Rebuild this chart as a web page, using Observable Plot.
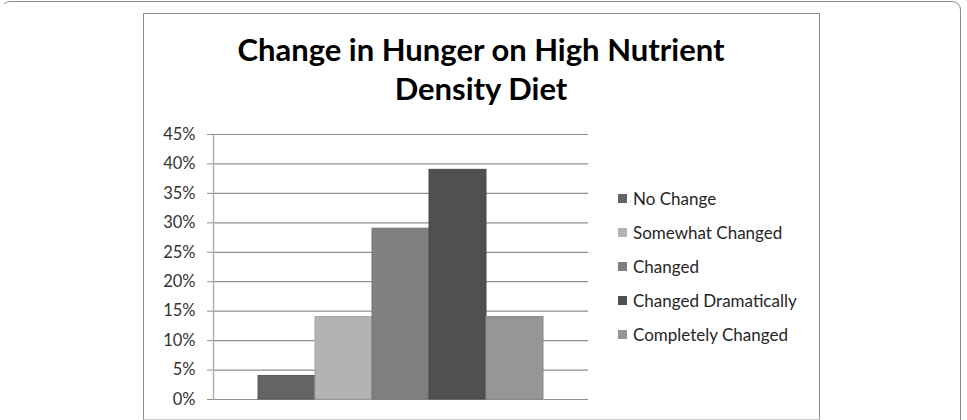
<!DOCTYPE html>
<html>
<head>
<meta charset="utf-8">
<script src="https://cdn.jsdelivr.net/npm/d3@7"></script>
<script src="https://cdn.jsdelivr.net/npm/@observablehq/plot@0.6"></script>
<style>
  html, body { margin: 0; padding: 0; background: #fff; }
  #page { position: relative; width: 967px; height: 420px; overflow: hidden; font-family: Lato, "Open Sans", sans-serif; }
  #outer { position: absolute; left: 1px; top: 1px; width: 960px; height: 440px; border: 1px solid #8a8a8a; border-radius: 9px; border-left-color: transparent; box-sizing: border-box; }
  #box { position: absolute; left: 143px; top: 13px; width: 677px; height: 407px; border: 1.5px solid #8c8c8c; border-bottom-color: #d0d0d0; box-sizing: border-box; }
  #chart { position: absolute; left: 0; top: 0; }
  #title { position: absolute; left: 181px; width: 600px; top: 30px; text-align: center; font-weight: 700; font-size: 31px; line-height: 39px; color: #000; }
  #legend { position: absolute; left: 618px; top: 182px; }
  .item { display: flex; align-items: center; height: 33.8px; font-size: 17px; color: #262626; }
  .sw { width: 9px; height: 9px; margin-right: 6px; }
</style>
</head>
<body>
<div id="page">
  <div id="outer"></div>
  <div id="box"></div>
  <div id="chart"></div>
  <div id="title">Change in Hunger on High Nutrient<br>Density Diet</div>
  <div id="legend"></div>
</div>
<script>
// Share of respondents by reported change in hunger
const series = ["No Change", "Somewhat Changed", "Changed", "Changed Dramatically", "Completely Changed"];
const shares = [0.04, 0.14, 0.29, 0.39, 0.14];
const colors = ["#646464", "#b3b3b3", "#808080", "#505050", "#969696"];
const yTicks = [0, 0.05, 0.10, 0.15, 0.20, 0.25, 0.30, 0.35, 0.40, 0.45];

const edge = colors.map(c => d3.color(c).darker(0.25).formatHex());
const rows = series.map((s, i) => ({series: s, share: shares[i], edge: edge[i]}));

const chart = Plot.plot({
  width: 967,
  height: 420,
  marginLeft: 213,
  marginRight: 379,
  marginTop: 134,
  marginBottom: 21,
  style: {fontFamily: "Lato, 'Open Sans', sans-serif", background: "transparent", overflow: "visible"},
  x: {domain: series, paddingInner: 0, paddingOuter: 0.755, axis: null},
  y: {domain: [0, 0.45], axis: null, label: null},
  color: {domain: series, range: colors},
  marks: [
    Plot.ruleY(yTicks, {stroke: "#8f8f8f", strokeWidth: 1.2}),
    Plot.frame({anchor: "left", stroke: "#b0b0b0", strokeWidth: 1.5}),
    Plot.axisY({
      ticks: yTicks,
      tickFormat: d3.format(".0%"),
      tickSize: 6,
      tickPadding: 12,
      stroke: "#8f8f8f",
      fontSize: 16.5,
      fill: "#333",
      label: null
    }),
    Plot.barY(rows, {x: "series", y: "share", fill: "series", stroke: "edge", strokeWidth: 1})
  ]
});
document.getElementById("chart").appendChild(chart);

const legend = d3.select("#legend");
series.forEach((s, i) => {
  const item = legend.append("div").attr("class", "item");
  item.append("div").attr("class", "sw").style("background", colors[i]);
  item.append("span").text(s);
});
</script>
</body>
</html>
